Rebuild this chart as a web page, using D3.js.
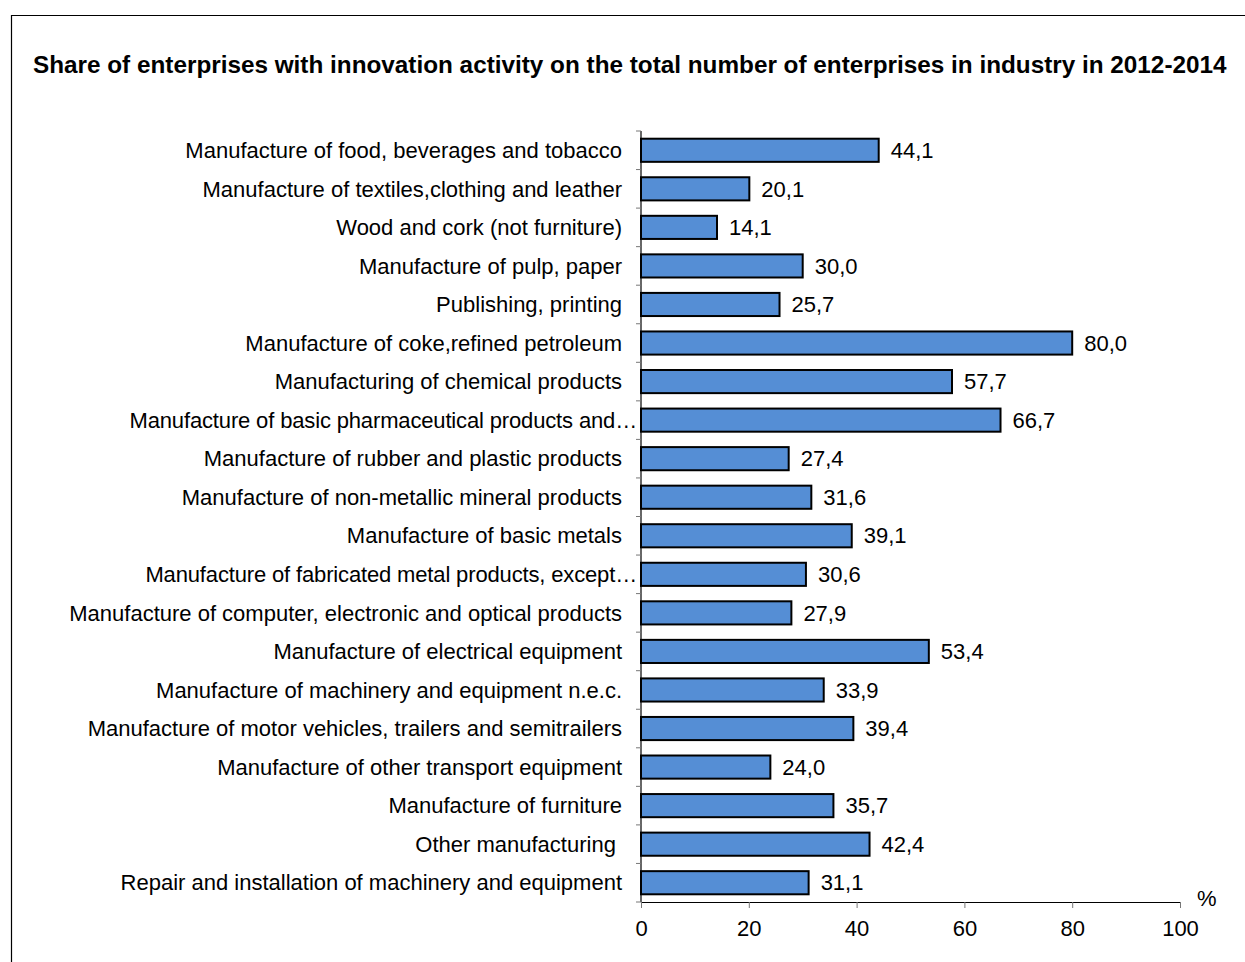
<!DOCTYPE html>
<html>
<head>
<meta charset="utf-8">
<script src="https://cdn.jsdelivr.net/npm/d3@7.9.0/dist/d3.min.js"></script>
<style>
  body { margin: 0; background: #fff; }
  svg text { font-family: Arial, "Liberation Sans", sans-serif; }
</style>
</head>
<body>
<svg width="1245" height="962"></svg>
<script>
// Chart data
const categories = [
  'Manufacture of food, beverages and tobacco',
  'Manufacture of textiles,clothing and leather',
  'Wood and cork (not furniture)',
  'Manufacture of pulp, paper',
  'Publishing, printing',
  'Manufacture of coke,refined petroleum',
  'Manufacturing of chemical products',
  'Manufacture of basic pharmaceutical products and\u2026',
  'Manufacture of rubber and plastic products',
  'Manufacture of non-metallic mineral products',
  'Manufacture of basic metals',
  'Manufacture of fabricated metal products, except\u2026',
  'Manufacture of computer, electronic and optical products',
  'Manufacture of electrical equipment',
  'Manufacture of machinery and equipment n.e.c.',
  'Manufacture of motor vehicles, trailers and semitrailers',
  'Manufacture of other transport equipment',
  'Manufacture of furniture',
  'Other manufacturing\u00a0',
  'Repair and installation of machinery and equipment'
];
const values = [44.1, 20.1, 14.1, 30.0, 25.7, 80.0, 57.7, 66.7, 27.4, 31.6,
                39.1, 30.6, 27.9, 53.4, 33.9, 39.4, 24.0, 35.7, 42.4, 31.1];
const xTicks = [0, 20, 40, 60, 80, 100];

const FONT = 'Arial, "Liberation Sans", sans-serif';
const FS = 22;
const svg = d3.select('svg');

// outer frame
svg.append('path')
  .attr('d', 'M11.5,962 V15.5 H1245')
  .attr('fill', 'none')
  .attr('stroke', '#000')
  .attr('stroke-width', 1.2);

svg.append('text')
  .attr('x', 33)
  .attr('y', 73)
  .attr('font-family', FONT)
  .attr('font-size', 24.3)
  .attr('font-weight', 'bold')
  .text('Share of enterprises with innovation activity on the total number of enterprises in industry in 2012-2014');

const x = d3.scaleLinear().domain([0, 100]).range([641, 1180]);
const y = d3.scaleBand().domain(categories).range([131, 902]).paddingInner(0.4).paddingOuter(0.2);

// bars
svg.append('g').selectAll('rect')
  .data(values)
  .join('rect')
  .attr('x', x(0))
  .attr('y', (d, i) => y(categories[i]))
  .attr('width', d => x(d) - x(0))
  .attr('height', y.bandwidth())
  .attr('fill', '#558ed5')
  .attr('stroke', '#000')
  .attr('stroke-width', 2);

// value labels
svg.append('g').selectAll('text')
  .data(values)
  .join('text')
  .attr('x', d => x(d) + 12)
  .attr('y', (d, i) => y(categories[i]) + y.bandwidth() / 2)
  .attr('dy', '0.35em')
  .attr('font-family', FONT)
  .attr('font-size', FS)
  .text(d => d.toFixed(1).replace('.', ','));

// category labels (truncated ones run up to the axis)
svg.append('g').selectAll('text')
  .data(categories)
  .join('text')
  .attr('x', d => d.endsWith('\u2026') ? 637 : 622)
  .attr('y', d => y(d) + y.bandwidth() / 2)
  .attr('dy', '0.35em')
  .attr('text-anchor', 'end')
  .attr('font-family', FONT)
  .attr('font-size', FS)
  .attr('letter-spacing', d => d.endsWith('\u2026') ? -0.15 : null)
  .style('white-space', 'pre')
  .text(d => d);

// y axis line + ticks at band boundaries
const step = y.step();
const bounds = d3.range(categories.length + 1).map(i => 131 + i * step);
svg.append('line')
  .attr('x1', x(0)).attr('x2', x(0))
  .attr('y1', 131).attr('y2', 902)
  .attr('stroke', '#000').attr('stroke-width', 1.2);
svg.append('g').selectAll('line')
  .data(bounds)
  .join('line')
  .attr('x1', x(0) - 5).attr('x2', x(0))
  .attr('y1', d => d).attr('y2', d => d)
  .attr('stroke', '#777').attr('stroke-width', 1);

// x axis
const xAxis = svg.append('g')
  .attr('transform', 'translate(0,902)')
  .call(d3.axisBottom(x).tickValues(xTicks).tickSize(6).tickPadding(12).tickSizeOuter(0));
xAxis.select('.domain').attr('stroke', '#000').attr('stroke-width', 1.2);
xAxis.selectAll('.tick line').attr('stroke', '#777');
xAxis.selectAll('.tick text')
  .attr('font-family', FONT)
  .attr('font-size', FS)
  .attr('fill', '#000');

svg.append('text')
  .attr('x', 1197)
  .attr('y', 906)
  .attr('font-family', FONT)
  .attr('font-size', FS)
  .text('%');
</script>
</body>
</html>
